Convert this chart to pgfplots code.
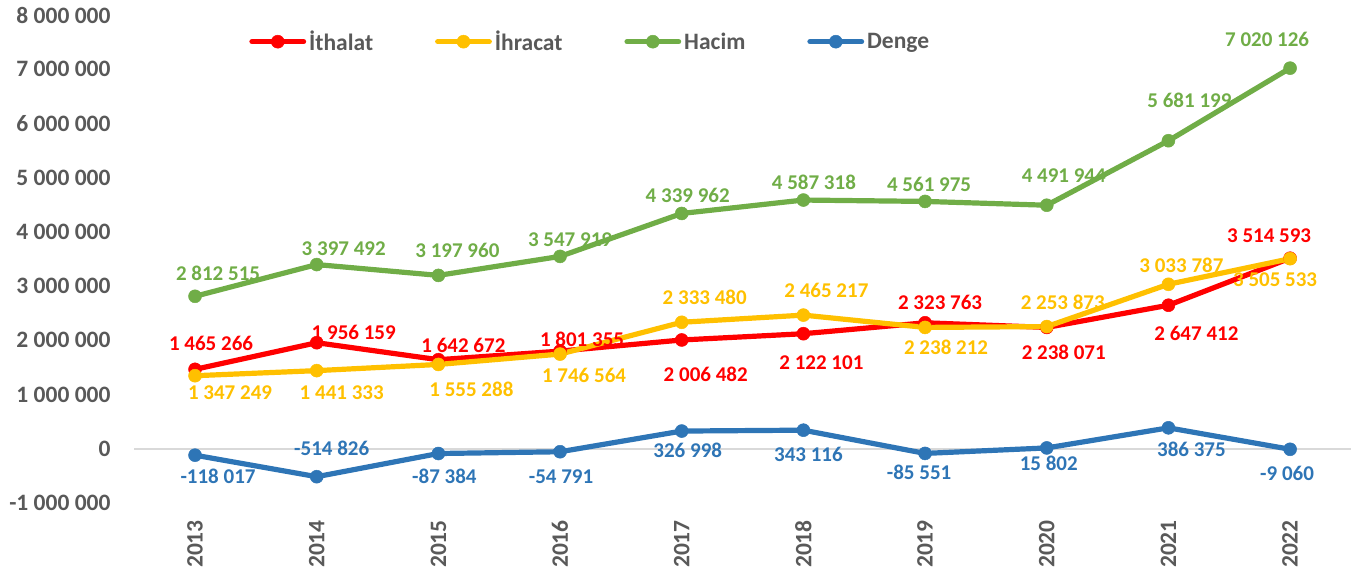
\documentclass[border=0pt]{standalone}
\usepackage{pgfplots}
\pgfplotsset{compat=1.18}
\usepackage{pgfplotstable}
\usepackage{fontspec}
\setmainfont{Carlito}
\definecolor{cRed}{HTML}{FF0000}
\definecolor{cYel}{HTML}{FFC000}
\definecolor{cGrn}{HTML}{70AD47}
\definecolor{cBlu}{HTML}{2E75B6}
\definecolor{tgray}{HTML}{595959}
\definecolor{zgray}{HTML}{D9D9D9}

\pgfplotstableread{
x y dx dy
0 1465266 16 26
1 1956159 37 10
2 1642672 25 14
3 1801355 22 12
4 2006482 24 -34
5 2122101 18 -29
6 2323763 15 20
7 2238071 17 -25
8 2647412 28 -28
9 3514593 -21 23
}\ithalat

\pgfplotstableread{
x y dx dy
0 1347249 35 -16.5
1 1441333 25 -22
2 1555288 33 -25
3 1746564 24 -21
4 2333480 23 25
5 2465217 23 25
6 2238212 21 -20
7 2253873 16 24
8 3033787 13 19
9 3505533 -15 -21
}\ihracat

\pgfplotstableread{
x y dx dy
0 2812515 23 23
1 3397492 27 16
2 3197960 19 25
3 3547919 10 16.5
4 4339962 6 18
5 4587318 10.5 17.6
6 4561975 4 17.5
7 4491944 17 30
8 5681199 21 40
9 7020126 -23 29
}\hacim

\pgfplotstableread{
x y dx dy
0 -118017 23 -21
1 -514826 15 28
2 -87384 6 -23
3 -54791 1 -25
4 326998 6 -19
5 343116 5 -24
6 -85551 -6 -19
7 15802 2 -15
8 386375 23 -21
9 -9060 -3 -24
}\denge

\pgfplotsset{
  lbl/.style={
    nodes near coords={\pgfmathprintnumber[fixed,precision=0,1000 sep={\ },assume math mode=true]{\pgfplotspointmeta}},
    visualization depends on={\thisrow{dx}\as\dx},
    visualization depends on={\thisrow{dy}\as\dy},
    every node near coord/.append style={font=\fontsize{21}{25}\selectfont\bfseries, text=#1, anchor=center, inner sep=0pt, xshift=\dx pt, yshift=\dy pt},
  },
  serline/.style={color=#1, line width=5.2pt, line join=round, line cap=round, mark=*, mark size=6.5pt, mark options={solid, line width=0.5pt, fill=#1}},
  ser/.style={serline=#1, lbl=#1, forget plot},
}

\begin{document}
\begin{tikzpicture}
\begin{axis}[
  at={(134.2pt,-503pt)}, anchor=south west,
  width=1216.7pt, height=488pt, scale only axis,
  xmin=-0.5, xmax=9.5, ymin=-1000000, ymax=8000000,
  axis line style={draw=none}, tick style={draw=none},
  scaled y ticks=false, scaled x ticks=false,
  clip=false,
  ytick={-1000000,0,1000000,2000000,3000000,4000000,5000000,6000000,7000000,8000000},
  yticklabels={-1 000 000,0,1 000 000,2 000 000,3 000 000,4 000 000,5 000 000,6 000 000,7 000 000,8 000 000},
  xtick={0,1,2,3,4,5,6,7,8,9},
  xticklabels={2013,2014,2015,2016,2017,2018,2019,2020,2021,2022},
  yticklabel style={anchor=east, inner sep=0pt, xshift=-23.5pt, font=\fontsize{23.5}{28}\selectfont\bfseries, text=tgray},
  xticklabel style={rotate=90, anchor=east, inner xsep=17pt, inner ysep=0pt, font=\fontsize{23.5}{28}\selectfont\bfseries, text=tgray},
  legend columns=4,
  legend image code/.code={\draw[mark repeat=2,mark phase=2,#1] plot coordinates {(0pt,0pt)(25.8pt,0pt)(51.6pt,0pt)};},
  legend style={at={(0.0945,0.9453)}, anchor=west, draw=none, fill=none, inner sep=0pt,
    nodes={inner sep=0pt, text=tgray, font=\fontsize{23.5}{28}\selectfont\bfseries},
    /tikz/every odd column/.append style={column sep=3pt},
    /tikz/every even column/.append style={column sep=62pt}},
]
\addplot[zgray, line width=1.5pt, mark=none, forget plot] coordinates {(-0.5,0) (9.5,0)};
\addplot[ser=cRed] table[x=x,y=y] {\ithalat};
\addplot[ser=cYel] table[x=x,y=y] {\ihracat};
\addplot[ser=cGrn] table[x=x,y=y] {\hacim};
\addplot[ser=cBlu] table[x=x,y=y] {\denge};
\addlegendimage{serline=cRed}
\addlegendentry{İthalat}
\addlegendimage{serline=cYel}
\addlegendentry{İhracat}
\addlegendimage{serline=cGrn}
\addlegendentry{Hacim}
\addlegendimage{serline=cBlu}
\addlegendentry{Denge}
\end{axis}
\pgfresetboundingbox
\path[use as bounding box] (0,0) rectangle (1353pt,-573pt);
\end{tikzpicture}
\end{document}
